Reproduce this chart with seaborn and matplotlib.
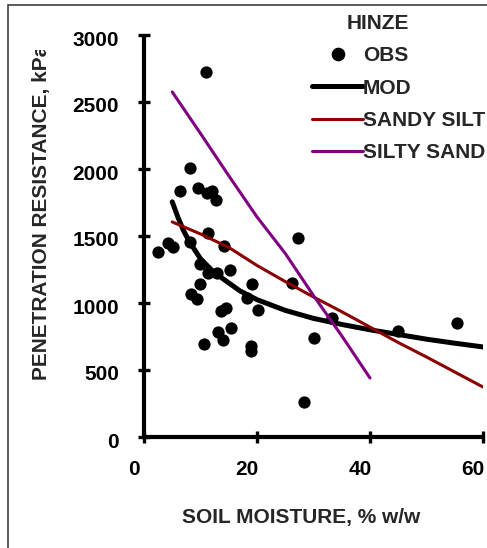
import matplotlib
matplotlib.use("Agg")
import matplotlib.pyplot as plt
import seaborn as sns
import numpy as np
import pandas as pd
from matplotlib.transforms import ScaledTranslation, Bbox, TransformedBbox
from matplotlib.patches import Rectangle
from matplotlib.lines import Line2D

# ---- data ----
obs_x = [2.5, 4.2, 5.1, 8.1, 11.3, 14.2, 9.9, 11.3, 12.9, 15.2, 9.9, 8.3, 9.3,
         19.1, 18.2, 20.2, 13.7, 14.6, 13.1, 15.4, 14.0, 10.6, 18.9, 18.9,
         26.2, 27.3, 30.1, 33.3, 28.3, 45.0, 55.4, 11.0, 8.1, 6.4, 9.6, 11.2,
         12.0, 12.7]
obs_y = [1380, 1448, 1420, 1455, 1525, 1425, 1290, 1224, 1224, 1246, 1142, 1065, 1030,
         1142, 1037, 948, 940, 965, 784, 813, 724, 694, 679, 645,
         1149, 1485, 739, 888, 261, 791, 851, 2724, 2007, 1836, 1858, 1821,
         1836, 1769]

mod_x = [5, 6, 7, 8, 10, 12, 14, 17, 20, 25, 30, 35, 40, 45, 50, 55, 60]
mod_y = [1755, 1640, 1540, 1460, 1330, 1245, 1180, 1090, 1025, 945, 885, 840, 800,
         765, 730, 700, 672]

sandy_x = [5, 10, 15, 20, 25, 30, 35, 40, 45, 50, 55, 60]
sandy_y = [1605, 1515, 1415, 1280, 1160, 1045, 935, 820, 705, 597, 485, 373]

silty_x = [5, 10, 15, 20, 25, 30, 35, 40]
silty_y = [2575, 2265, 1950, 1642, 1370, 1055, 755, 440]

x_ticks = [0, 20, 40, 60]
y_ticks = [0, 500, 1000, 1500, 2000, 2500, 3000]

sns.set_style("white")
plt.rcParams['font.family'] = ['Liberation Sans', 'DejaVu Sans']
plt.rcParams['font.weight'] = 'bold'

W, H = 487, 548
fig = plt.figure(figsize=(W / 100, H / 100), dpi=100)
fig.patch.set_facecolor('white')

ax = fig.add_axes([144 / W, 111 / H, 339 / W, 402 / H])

sns.scatterplot(x=obs_x, y=obs_y, s=78, color='black', edgecolor='black',
                linewidth=0, ax=ax, zorder=3, legend=False)
sns.lineplot(x=mod_x, y=mod_y, color='black', linewidth=3.6, ax=ax, zorder=4,
             legend=False)
sns.lineplot(x=sandy_x, y=sandy_y, color='#8B0000', linewidth=2.2, ax=ax, zorder=5,
             legend=False)
sns.lineplot(x=silty_x, y=silty_y, color='#800080', linewidth=2.2, ax=ax, zorder=6,
             legend=False)

ax.set_xlim(0, 60)
ax.set_ylim(0, 3000)
ax.set_xticks(x_ticks)
ax.set_yticks(y_ticks)
ax.set_xticklabels([str(v) for v in x_ticks])
ax.set_yticklabels([str(v) for v in y_ticks])
for s in ['top', 'right']:
    ax.spines[s].set_visible(False)
for s in ['left', 'bottom']:
    ax.spines[s].set_linewidth(3.0)
    ax.spines[s].set_color('black')
    ax.spines[s].set_capstyle('butt')
ax.tick_params(axis='both', which='major', bottom=True, left=True,
               direction='inout', length=8, width=2.4,
               color='black', labelsize=15, labelcolor='black')
ax.tick_params(axis='x', pad=12.5)
ax.tick_params(axis='y', pad=14)
for lab in ax.get_xticklabels():
    lab.set_fontweight('bold')
    lab.set_transform(lab.get_transform() + ScaledTranslation(-0.10, 0, fig.dpi_scale_trans))
for lab in ax.get_yticklabels():
    lab.set_fontweight('bold')
    lab.set_transform(lab.get_transform() + ScaledTranslation(0, -0.03, fig.dpi_scale_trans))
ax.patch.set_alpha(0)

# axis labels
ax.set_xlabel('SOIL MOISTURE, % w/w', fontsize=15, fontweight='bold')
ax.xaxis.label.set_va('center')
ax.xaxis.label.set_ha('center')
ax.xaxis.set_label_coords((301 - 144) / 339, (437 - 517) / 402)

ax.set_ylabel('PENETRATION RESISTANCE, kPa', fontsize=15, fontweight='bold')
ylab = ax.yaxis.label
ylab.set_rotation_mode('default')
ylab.set_ha('center')
ylab.set_va('bottom')
ax.yaxis.set_label_coords((42 - 144) / 339, (437 - 380) / 402)
clip = TransformedBbox(Bbox.from_extents(0, 0, 1, (H - 50) / H), fig.transFigure)
ylab.set_clip_box(clip)
ylab.set_clip_on(True)

# legend
handles = [
    Line2D([], [], linestyle='none', marker='o', markersize=8.8,
           markerfacecolor='black', markeredgecolor='black'),
    Line2D([], [], color='black', linewidth=3.6),
    Line2D([], [], color='#8B0000', linewidth=2.2),
    Line2D([], [], color='#800080', linewidth=2.2),
]
labels = ['OBS', 'MOD', 'SANDY SILT', 'SILTY SAND']
leg = ax.legend(handles, labels, title='HINZE', loc='upper left',
                bbox_to_anchor=(312 / W, (H - 14) / H), bbox_transform=fig.transFigure,
                frameon=False, fontsize=15, borderpad=0, borderaxespad=0,
                handlelength=2.45, handletextpad=0.0, labelspacing=0.64,
                alignment='left',
                title_fontproperties={'weight': 'bold', 'size': 15})
for t in leg.get_texts():
    t.set_fontweight('bold')
leg.get_title().set_x(35)

# outer frame
fig.patches.append(Rectangle((8 / W, -0.1), 1.2, (H - 5) / H + 0.1,
                             transform=fig.transFigure, fill=False,
                             edgecolor='#404040', linewidth=1.2))

fig.savefig('out.png', dpi=100)
